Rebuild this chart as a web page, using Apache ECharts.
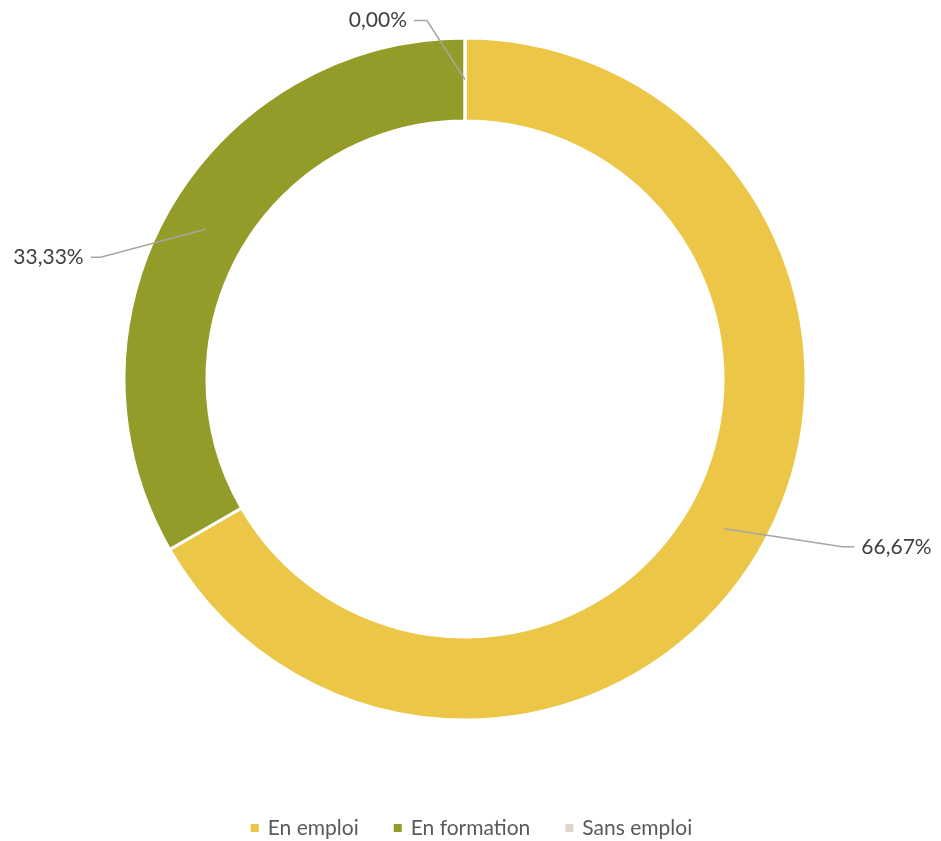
<!DOCTYPE html>
<html>
<head>
<meta charset="utf-8">
<script src="https://cdn.jsdelivr.net/npm/echarts@6/dist/echarts.min.js"></script>
<style>
html,body{margin:0;padding:0;background:#fff;}
#chart{width:941px;height:841px;}
</style>
</head>
<body>
<div id="chart"></div>
<script>
var categories = ['En emploi', 'En formation', 'Sans emploi'];
var values = [66.67, 33.33, 0];
var colors = ['#EBC647', '#939C28', '#DDD5CB'];

// leader-line styling: elbow offset from anchor, horizontal tail length, label side
var leaders = [
  {dx: 118, dy: 18, tail: 12, side: 1},
  {dx: -105, dy: 28, tail: 10, side: -1},
  {dx: -38, dy: -59, tail: 13, side: -1}
];

var cx = 465, cy = 379, rIn = 258, rOut = 341;
var total = values.reduce(function(a, b){ return a + b; }, 0);

function midAngle(i) {
  var before = 0;
  for (var k = 0; k < i; k++) before += values[k];
  return (before + values[i] / 2) / total * 2 * Math.PI;
}

var pieData = categories.map(function(c, i){ return {name: c, value: values[i]}; });

var chart = echarts.init(document.getElementById('chart'));
chart.setOption({
  backgroundColor: '#fff',
  color: colors,
  legend: {
    top: 811,
    left: 'center',
    icon: 'rect',
    itemWidth: 10,
    itemHeight: 10,
    itemGap: 33,
    textStyle: {fontFamily: 'Lato', fontSize: 21, lineHeight: 24, color: '#595959', padding: [0, 0, 0, 3]},
    data: categories
  },
  series: [{
    type: 'pie',
    z: 2,
    center: [cx, cy],
    radius: [rIn, rOut],
    startAngle: 90,
    clockwise: true,
    silent: true,
    itemStyle: {borderColor: '#fff', borderWidth: 3},
    label: {show: false},
    labelLine: {show: false},
    data: pieData
  }, {
    type: 'pie',
    z: 5,
    center: [cx, cy],
    radius: [rIn, rOut],
    startAngle: 90,
    clockwise: true,
    avoidLabelOverlap: false,
    silent: true,
    legendHoverLink: false,
    itemStyle: {color: 'rgba(0,0,0,0)', borderWidth: 0},
    label: {
      show: true,
      position: 'outside',
      fontFamily: 'Lato',
      fontSize: 21,
      color: '#404040',
      formatter: function(p) { return p.value.toFixed(2).replace('.', ',') + '%'; }
    },
    labelLine: {show: true, lineStyle: {color: '#A6A6A6', width: 1.5}},
    labelLayout: function(params) {
      var i = params.dataIndex;
      var a = midAngle(i);
      var rm = (rIn + rOut) / 2;
      var sx = cx + rm * Math.sin(a), sy = cy - rm * Math.cos(a);
      var L = leaders[i];
      var ex = sx + L.dx, ey = sy + L.dy;
      var tx = ex + L.side * L.tail;
      return {
        x: tx + L.side * 7,
        y: ey,
        align: L.side > 0 ? 'left' : 'right',
        verticalAlign: 'middle',
        labelLinePoints: [[sx, sy], [ex, ey], [tx, ey]]
      };
    },
    data: pieData
  }]
});
</script>
</body>
</html>
